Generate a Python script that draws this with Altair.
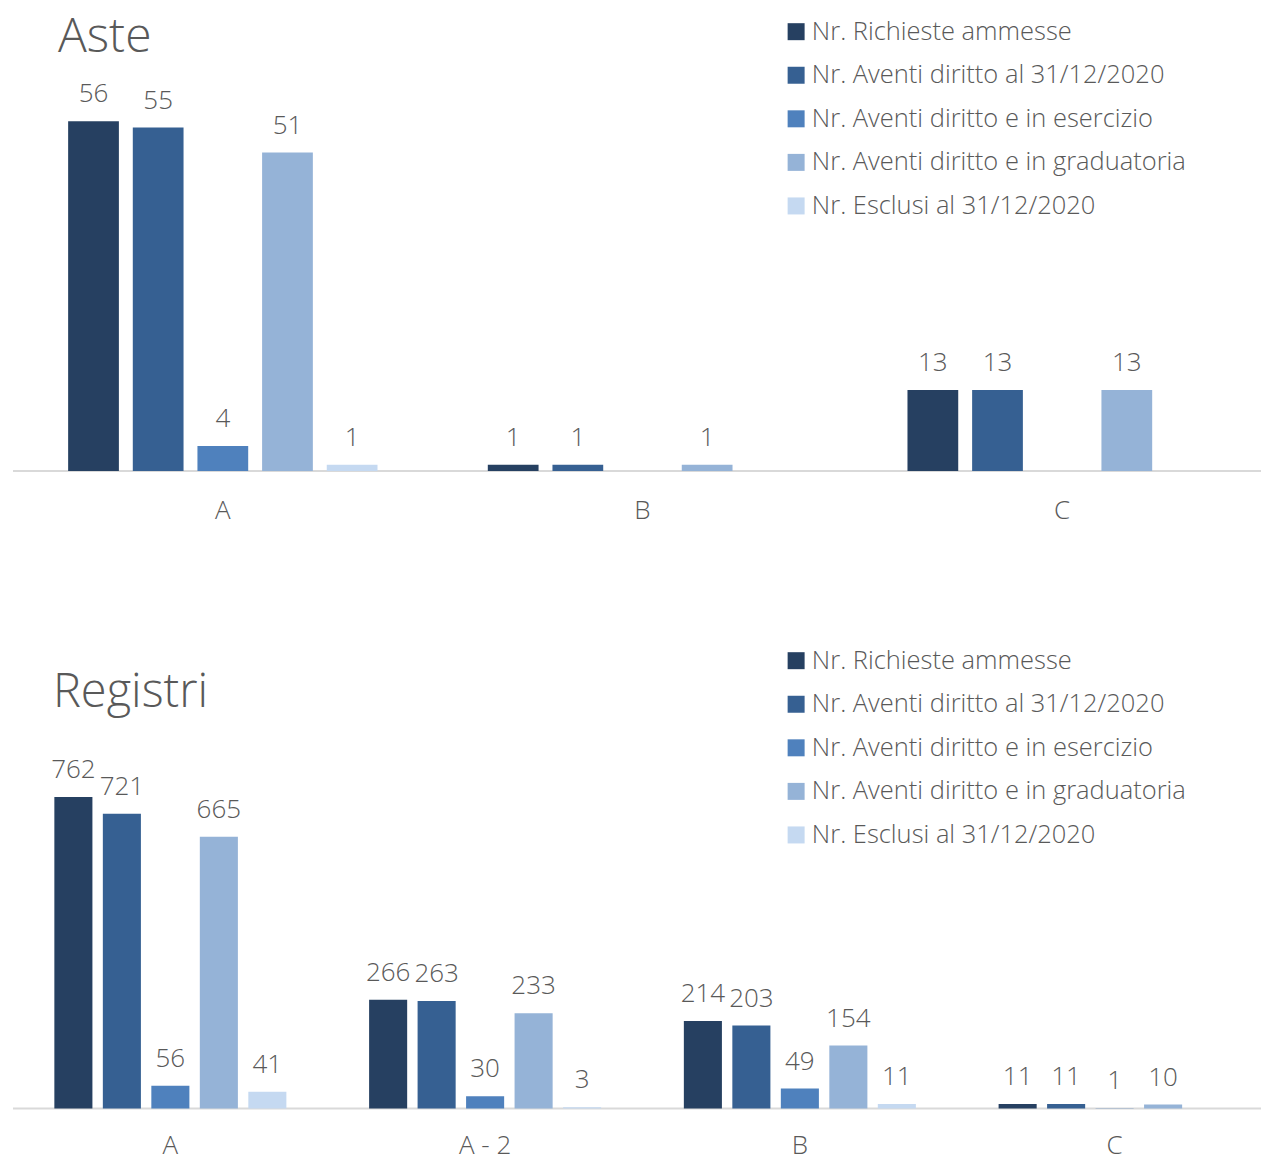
import altair as alt
import pandas as pd

FONT = "Open Sans"
TEXT_GREY = "#595959"

series = [
    "Nr. Richieste ammesse",
    "Nr. Aventi diritto al 31/12/2020",
    "Nr. Aventi diritto e in esercizio",
    "Nr. Aventi diritto e in graduatoria",
    "Nr. Esclusi al 31/12/2020",
]
colors = ["#264061", "#366092", "#4F81BD", "#95B3D7", "#C5D9F1"]

# Aste
aste_categories = ["A", "B", "C"]
aste_richieste = [56, 1, 13]
aste_aventi = [55, 1, 13]
aste_esercizio = [4, None, None]
aste_graduatoria = [51, 1, 13]
aste_esclusi = [1, None, None]

# Registri
registri_categories = ["A", "A - 2", "B", "C"]
registri_richieste = [762, 266, 214, 11]
registri_aventi = [721, 263, 203, 11]
registri_esercizio = [56, 30, 49, 1]
registri_graduatoria = [665, 233, 154, 10]
registri_esclusi = [41, 3, 11, None]

PLOT_W = 1249


def long_frame(categories, columns):
    rows = []
    for name, values in zip(series, columns):
        for cat, v in zip(categories, values):
            if v is not None:
                rows.append({"categoria": cat, "serie": name, "valore": v})
    return pd.DataFrame(rows)


def panel(title, title_size, title_x, title_y, categories, columns,
          height, ymax, legend_y, label_padding):
    df = long_frame(categories, columns)

    x = alt.X(
        "categoria:N",
        sort=categories,
        scale=alt.Scale(domain=categories, range=[0, 1260],
                        paddingInner=0, paddingOuter=0),
        axis=alt.Axis(title=None, domain=False, ticks=False, tickSize=0,
                      labelAngle=0, labelPadding=label_padding,
                      labelBaseline="alphabetic", labelFontSize=26,
                      labelFont=FONT, labelFontWeight=300,
                      labelColor=TEXT_GREY, grid=False),
    )
    xoff = alt.XOffset(
        "serie:N",
        sort=series,
        scale=alt.Scale(domain=series, paddingInner=0.215, paddingOuter=0.853),
    )
    y = alt.Y("valore:Q", scale=alt.Scale(domain=[0, ymax], nice=False, zero=True),
              axis=None)
    color = alt.Color(
        "serie:N",
        sort=series,
        scale=alt.Scale(domain=series, range=colors),
        legend=alt.Legend(
            title=None, orient="none", legendX=771, legendY=legend_y,
            direction="vertical", symbolType="square", symbolSize=289,
            symbolStrokeWidth=0, labelFontSize=25.5, labelFont=FONT,
            labelFontWeight=300, labelColor=TEXT_GREY, labelLimit=800,
            rowPadding=16.6, labelOffset=3, padding=0,
        ),
    )

    bars = alt.Chart(df).mark_bar().encode(x=x, xOffset=xoff, y=y, color=color)
    labels = alt.Chart(df).mark_text(
        dy=-19, baseline="alphabetic", fontSize=26, font=FONT,
        fontWeight=300, color=TEXT_GREY,
    ).encode(x=x, xOffset=xoff, y=y, text="valore:Q")
    axis_line = alt.Chart(pd.DataFrame({"v": [0]})).mark_rule(
        color="#D9D9D9", strokeWidth=2
    ).encode(
        x=alt.value(0), x2=alt.value(PLOT_W),
        y=alt.Y("v:Q", scale=alt.Scale(domain=[0, ymax], nice=False), axis=None),
    )
    heading = alt.Chart(pd.DataFrame({"t": [title]})).mark_text(
        align="left", baseline="alphabetic", fontSize=title_size, font=FONT,
        fontWeight=300, color=TEXT_GREY,
    ).encode(text="t:N", x=alt.value(title_x), y=alt.value(title_y))

    return alt.layer(axis_line, bars, labels, heading).properties(
        width=PLOT_W, height=height
    )


aste = panel("Aste", 48, 45, 52, aste_categories,
             [aste_richieste, aste_aventi, aste_esercizio,
              aste_graduatoria, aste_esclusi],
             height=471, ymax=75.36, legend_y=18.5, label_padding=47)

registri = panel("Registri", 47, 40, 146.7, registri_categories,
                 [registri_richieste, registri_aventi, registri_esercizio,
                  registri_graduatoria, registri_esclusi],
                 height=549, ymax=1341.6, legend_y=88, label_padding=44.5)

chart = (
    alt.vconcat(aste, registri, spacing=89, bounds="flush")
    .resolve_scale(color="independent", x="independent", y="independent",
                   xOffset="independent")
    .resolve_legend(color="independent")
    .properties(padding={"left": 12, "top": 0, "right": -11, "bottom": 2})
    .configure_view(stroke=None)
)

chart.save("out.html", embed_options={"renderer": "svg", "actions": False})
